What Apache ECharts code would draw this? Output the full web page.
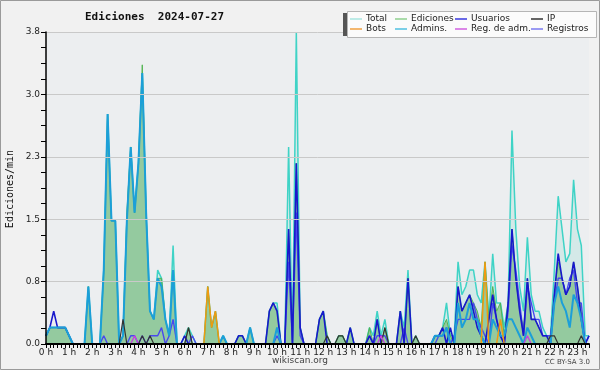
<!DOCTYPE html>
<html><head><meta charset="utf-8">
<script src="https://cdn.jsdelivr.net/npm/echarts@6/dist/echarts.min.js"></script>
<style>html,body{margin:0;padding:0;background:#f1f1f1}#c{width:600px;height:370px}</style>
</head><body><div id="c"></div>
<script>
// 10-minute slots, 00:00 .. 23:30, values in edits per minute
const hourLabels = ['0 h','1 h','2 h','3 h','4 h','5 h','6 h','7 h','8 h','9 h','10 h','11 h','12 h','13 h','14 h','15 h','16 h','17 h','18 h','19 h','20 h','21 h','22 h','23 h'];
const yTicks = [0, 0.76, 1.52, 2.28, 3.04, 3.8];

const total = [
 0.1,0.2,0.2,0.2,0.2,0.2,0.1,0,0,0,0,0.7,
 0,0,0,0.9,2.8,1.5,1.5,0,0.1,1.5,2.4,1.6,
 2.2,3.3,1.6,0.4,0.3,0.9,0.8,0.3,0.1,1.2,0,0,
 0.1,0.2,0.1,0,0,0,0.7,0.2,0.4,0,0.1,0,
 0,0,0.1,0.1,0,0.2,0,0,0,0,0.4,0.5,
 0.5,0,0,2.4,0,3.8,0.2,0,0,0,0,0.3,
 0.4,0.1,0,0,0.1,0.1,0,0.2,0,0,0,0,
 0.2,0.1,0.4,0.1,0.3,0,0,0,0.4,0.2,0.9,0,
 0.1,0,0,0,0,0.1,0.1,0.2,0.5,0.1,0.1,1.0,
 0.6,0.7,0.9,0.9,0.6,0.5,1.0,0.3,1.1,0.5,0.5,0.2,
 0.5,2.6,1.4,0.7,0.4,1.3,0.6,0.4,0.4,0.2,0.1,0.1,
 0.9,1.8,1.4,1.0,1.1,2.0,1.4,1.2,0.1,0.1];
const ediciones = [
 0.1,0.2,0.2,0.2,0.2,0.2,0.1,0,0,0,0,0.7,
 0,0,0,0.9,2.8,1.5,1.5,0,0.1,1.6,2.4,1.6,
 2.2,3.4,1.6,0.4,0.3,0.8,0.8,0.3,0.1,0.9,0,0,
 0,0.2,0,0,0,0,0.7,0.2,0.4,0,0.1,0,
 0,0,0.1,0.1,0,0.2,0,0,0,0,0.4,0.5,
 0.4,0,0,1.4,0,2.2,0.2,0,0,0,0,0.3,
 0.4,0.1,0,0,0.1,0.1,0,0.2,0,0,0,0,
 0.2,0,0.3,0,0.2,0,0,0,0.4,0,0.8,0,
 0.1,0,0,0,0,0.1,0.1,0.2,0.3,0.1,0,0.7,
 0.4,0.5,0.6,0.5,0.4,0.2,1.0,0.3,0.7,0.4,0.5,0.1,
 0.5,1.4,0.8,0.4,0.2,0.8,0.3,0.3,0.2,0.1,0.1,0.1,
 0.6,1.0,0.8,0.6,0.7,1.0,0.7,0.4,0,0];
const usuarios = [
 0.1,0.2,0.4,0.2,0.2,0.2,0.1,0,0,0,0,0,
 0,0,0,0,0,0,0,0,0,0,0,0,
 0,0,0,0,0,0,0,0,0,0,0,0,
 0.1,0,0,0,0,0,0,0,0,0,0,0,
 0,0,0.1,0.1,0,0,0,0,0,0,0.4,0.5,
 0.4,0,0,1.4,0,2.2,0.2,0,0,0,0,0.3,
 0.4,0,0,0,0,0,0,0.2,0,0,0,0,
 0.1,0,0.3,0,0,0,0,0,0.4,0,0.8,0,
 0,0,0,0,0,0.1,0.1,0.2,0,0.2,0,0.7,
 0.4,0.5,0.6,0.4,0.2,0.1,0,0.3,0.6,0.3,0.1,0,
 0.5,1.4,0.8,0.4,0.1,0.8,0.3,0.3,0.2,0.1,0.1,0,
 0.6,1.1,0.8,0.6,0.7,1.0,0.7,0.3,0,0.1];
const ip = [
 0,0,0,0,0,0,0,0,0,0,0,0,
 0,0,0,0,0,0,0,0,0.3,0,0,0,
 0,0.1,0,0.1,0,0,0,0,0,0,0,0,
 0,0.2,0,0,0,0,0,0,0,0,0,0,
 0,0,0,0,0,0,0,0,0,0,0,0,
 0,0,0,0,0,0,0,0,0,0,0,0,
 0,0.1,0,0,0.1,0.1,0,0,0,0,0,0,
 0,0,0,0,0.2,0,0,0,0,0,0,0,
 0.1,0,0,0,0,0,0,0,0,0,0,0,
 0,0,0,0,0,0,0,0,0,0,0,0,
 0,0,0,0,0,0,0,0,0,0,0,0.1,
 0.1,0,0,0,0,0,0,0.1,0,0];
const bots = [
 0,0,0,0,0,0,0,0,0,0,0,0,
 0,0,0,0,0,0,0,0,0,0,0,0,
 0,0,0,0,0,0,0,0,0,0,0,0,
 0,0,0,0,0,0,0.7,0.2,0.4,0,0,0,
 0,0,0,0,0,0,0,0,0,0,0,0,
 0,0,0,0,0,0,0,0,0,0,0,0,
 0,0,0,0,0,0,0,0,0,0,0,0,
 0,0,0,0,0,0,0,0,0,0,0,0,
 0,0,0,0,0,0,0,0,0,0,0,0,
 0,0,0,0,0,0,1.0,0,0,0,0.3,0,
 0,0,0,0,0,0,0,0,0,0,0,0,
 0,0,0,0,0,0,0,0,0,0];
const admins = [
 0.1,0.2,0.2,0.2,0.2,0.2,0.1,0,0,0,0,0.7,
 0,0,0,0.9,2.8,1.5,1.5,0,0.1,1.5,2.4,1.6,
 2.2,3.3,1.6,0.4,0.3,0.8,0.7,0.3,0.1,0.9,0,0,
 0,0,0,0,0,0,0,0,0,0,0.1,0,
 0,0,0,0,0,0.2,0,0,0,0,0,0,
 0.2,0,0,0,0,0,0,0,0,0,0,0,
 0,0,0,0,0,0,0,0,0,0,0,0,
 0,0,0,0,0,0,0,0,0,0,0,0,
 0,0,0,0,0,0.1,0.1,0.1,0.2,0,0,0.5,
 0.2,0.3,0.5,0.3,0.3,0.1,0,0,0.3,0.2,0.1,0.1,
 0.3,0.3,0.2,0.1,0,0.2,0.1,0,0,0,0,0,
 0.5,0.7,0.5,0.4,0.2,0.6,0.5,0.3,0,0];
const regAdm = [
 0,0,0,0,0,0,0,0,0,0,0,0,
 0,0,0,0,0,0,0,0,0,0,0,0.1,
 0,0,0,0,0,0,0,0,0,0,0,0,
 0,0,0,0,0,0,0,0,0,0,0,0,
 0,0,0,0,0,0,0,0,0,0,0,0,
 0,0,0,0,0,0,0,0,0,0,0,0,
 0,0,0,0,0,0,0,0,0,0,0,0,
 0,0,0,0.1,0,0,0,0,0,0,0,0,
 0,0,0,0,0,0,0,0,0,0,0,0,
 0,0,0,0,0,0,0,0,0,0,0,0,
 0,0,0,0,0,0.1,0,0,0,0,0,0,
 0,0,0,0,0,0,0,0,0,0];
const registros = [
 0,0,0,0,0,0,0,0,0,0,0,0,
 0,0,0,0.1,0,0,0,0,0,0,0.1,0.1,
 0,0.1,0,0.1,0.1,0.1,0.2,0,0.1,0.3,0,0,
 0,0,0.1,0,0,0,0,0,0,0,0,0,
 0,0,0,0,0,0,0,0,0,0,0,0,
 0.1,0,0,1.0,0,1.6,0.1,0,0,0,0,0,
 0,0,0,0,0,0,0,0,0,0,0,0,
 0.1,0,0.1,0.1,0.1,0,0,0,0,0.2,0,0,
 0,0,0,0,0,0,0.1,0.1,0.2,0,0.1,0.3,
 0.3,0.3,0.3,0.5,0.3,0.2,0.1,0,0.5,0.3,0.1,0,
 0.4,1.2,0.9,0.5,0.1,0.7,0.5,0.3,0.3,0.1,0.1,0.1,
 0.5,0.8,0.8,0.6,0.8,0.9,0.5,0.5,0,0.1];

const slots = total.map((_, i) => String(Math.floor(i / 6)).padStart(2, '0') + ':' + String((i % 6) * 10).padStart(2, '0'));

const chart = echarts.init(document.getElementById('c'), null, {renderer: 'canvas'});
const line = (name, data, color, width, area, z) => ({
  name, type: 'line', data, showSymbol: false, symbol: 'none', z,
  lineStyle: {color, width}, itemStyle: {color},
  areaStyle: area ? {color: area, opacity: 1} : undefined
});
const legendItems = [
  ['Total', '#a8e6e0', 348, 19], ['Ediciones', '#8fd08f', 393, 19], ['Usuarios', '#3a3ae0', 453, 19], ['IP', '#333333', 529, 19],
  ['Bots', '#f0a040', 348, 29], ['Admins.', '#50c0e0', 393, 29], ['Reg. de adm.', '#d060e0', 453, 29], ['Registros', '#7a7af0', 529, 29]
];
const graphic = [
  {type: 'rect', shape: {x: 0.5, y: 0.5, width: 599, height: 369}, style: {fill: 'none', stroke: '#9a9a9a', lineWidth: 1}, z: 100},
  {type: 'text', x: 85, y: 17, style: {text: 'Ediciones  2024-07-27', font: 'bold 11px "DejaVu Sans Mono"', fill: '#111', textVerticalAlign: 'middle'}, z: 100},
  {type: 'text', x: 10, y: 189, rotation: Math.PI / 2, style: {text: 'Ediciones/min', font: '10px "DejaVu Sans Mono"', fill: '#111', textAlign: 'center', textVerticalAlign: 'middle'}, z: 100},
  {type: 'text', x: 300, y: 361, style: {text: 'wikiscan.org', font: '9px "DejaVu Sans"', fill: '#444', textAlign: 'center', textVerticalAlign: 'middle'}, z: 100},
  {type: 'text', x: 590, y: 362, style: {text: 'CC BY-SA 3.0', font: '7px "DejaVu Sans"', fill: '#444', textAlign: 'right', textVerticalAlign: 'middle'}, z: 100},
  {type: 'rect', shape: {x: 343, y: 13, width: 5, height: 23}, style: {fill: '#555'}, z: 100},
  {type: 'rect', shape: {x: 347.5, y: 11.5, width: 249, height: 26}, style: {fill: '#fbfbfb', stroke: '#b5b5b5', lineWidth: 1}, z: 101}
];
legendItems.forEach(([t, c, x, y]) => {
  graphic.push({type: 'line', shape: {x1: x + 2, y1: y, x2: x + 14, y2: y}, style: {stroke: c, lineWidth: 1.5}, z: 102});
  graphic.push({type: 'text', x: x + 18, y: y, style: {text: t, font: '9px "DejaVu Sans"', fill: '#222', textVerticalAlign: 'middle'}, z: 102});
});

chart.setOption({
  animation: false,
  backgroundColor: '#f1f1f1',
  grid: {left: 46, right: 11, top: 32, bottom: 26, show: true, backgroundColor: '#eceef0', borderWidth: 0},
  xAxis: {
    type: 'category', data: slots, boundaryGap: false, z: 20,
    axisLine: {show: true, lineStyle: {color: '#000', width: 2}},
    axisTick: {show: true, interval: 0, length: 4, lineStyle: {color: '#000'}},
    axisLabel: {interval: (i) => i % 6 === 0, formatter: (v, i) => hourLabels[Math.floor(i / 6)], fontSize: 9, fontFamily: 'DejaVu Sans', color: '#222', margin: 4},
    splitLine: {show: false}
  },
  yAxis: {
    type: 'value', min: yTicks[0], max: yTicks[yTicks.length - 1], interval: yTicks[1], z: 20,
    axisLine: {show: true, lineStyle: {color: '#000', width: 1.5}},
    axisTick: {show: true, length: 5, lineStyle: {color: '#000'}},
    minorTick: {show: true, splitNumber: 4, length: 5, lineStyle: {color: '#000'}},
    axisLabel: {formatter: (v) => v.toFixed(1), fontSize: 9, fontFamily: 'DejaVu Sans', color: '#222', margin: 6},
    splitLine: {show: true, lineStyle: {color: '#c9c9c9', width: 1}}
  },
  series: [
    line('Total', total, '#3fd3c6', 1.5, 'rgba(120,215,200,0.2)', 1),
    line('Ediciones', ediciones, '#52b452', 1, 'rgba(80,170,80,0.48)', 2),
    line('Registros', registros, '#4848ee', 1.4, null, 3),
    line('Usuarios', usuarios, '#1818cc', 1.6, null, 4),
    line('Admins.', admins, '#1c9fd8', 2, null, 5),
    line('IP', ip, '#333333', 1.2, null, 6),
    line('Bots', bots, '#f09a10', 1.5, null, 7),
    line('Reg. de adm.', regAdm, '#c83ee0', 1.3, null, 8)
  ],
  graphic
});
</script></body></html>
